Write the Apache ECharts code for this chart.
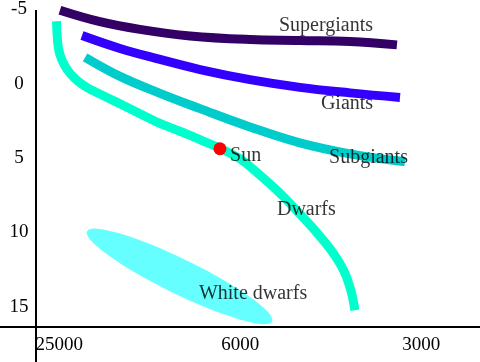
<!DOCTYPE html>
<html>
<head>
<meta charset="utf-8">
<script src="https://cdn.jsdelivr.net/npm/echarts@6/dist/echarts.min.js"></script>
<style>
html,body{margin:0;padding:0;background:#fff;}
#chart{width:480px;height:362px;}
</style>
</head>
<body>
<div id="chart"></div>
<script>
// x positions: 0 -> 25000 K, 1 -> 6000 K, 2 -> 3000 K (schematic temperature axis)
const xTickValues = [0, 1, 2];
const xTickLabels = ['25000', '6000', '3000'];
// absolute magnitude ticks
const yTickValues = [-5, 0, 5, 10, 15];

// [temperature position, absolute magnitude]
const supergiants = [[0.004,-4.95],[0.225,-4.18],[0.446,-3.66],[0.723,-3.22],[1.054,-2.98],[1.330,-2.92],[1.607,-2.85],[1.866,-2.62]];
const giants = [[0.126,-3.25],[0.336,-2.38],[0.557,-1.64],[0.778,-0.96],[1.054,-0.28],[1.330,0.24],[1.607,0.61],[1.883,0.92]];
const subgiants = [[0.143,-1.78],[0.336,-0.50],[0.557,0.64],[0.778,1.67],[1.054,2.90],[1.330,3.97],[1.607,4.71],[1.910,5.25]];
const dwarfs = [[-0.015,-4.21],[-0.012,-3.41],[-0.007,-2.62],[0.004,-1.96],[0.027,-1.30],[0.060,-0.70],[0.104,-0.17],[0.159,0.29],[0.225,0.69],[0.308,1.18],[0.391,1.68],[0.474,2.18],[0.557,2.67],[0.640,3.07],[0.723,3.47],[0.806,3.90],[0.888,4.33],[0.999,5.05],[1.093,5.98],[1.214,7.30],[1.319,8.62],[1.419,9.95],[1.507,11.27],[1.573,12.59],[1.612,13.92],[1.634,15.24]];
const whiteDwarfsCenter = [[0.665, 12.96]];
const sun = [[0.888, 4.37]];

const labelNames = ['Supergiants', 'Giants', 'Subgiants', 'Sun', 'Dwarfs', 'White dwarfs'];
const labelAnchors = [[1.214,-3.94],[1.446,1.35],[1.491,4.99],[0.944,4.85],[1.203,8.49],[0.772,14.11]];

const FONT = '"Liberation Serif", "DejaVu Serif", serif';
const chart = echarts.init(document.getElementById('chart'), null, {renderer: 'canvas'});

function band(name, data, color, smooth) {
  return {
    name: name, type: 'line', data: data, smooth: smooth, showSymbol: false, silent: true,
    lineStyle: {color: color, width: 9, cap: 'butt', opacity: 1}, z: 3
  };
}

chart.setOption({
  animation: false,
  backgroundColor: '#ffffff',
  grid: {left: 36, right: 0, top: 4, bottom: 36},
  xAxis: {
    type: 'value', min: -0.1282, max: 2.3249,
    axisLine: {show: false}, axisTick: {show: false}, splitLine: {show: false},
    axisLabel: {
      customValues: xTickValues,
      formatter: v => xTickLabels[Math.round(v)],
      color: '#000', fontFamily: FONT, fontSize: 19, margin: 10
    }
  },
  yAxis: {
    type: 'value', inverse: true, min: -5, max: 16.296,
    axisLine: {show: false}, axisTick: {show: false}, splitLine: {show: false},
    axisLabel: {
      customValues: yTickValues,
      formatter: v => String(v),
      color: '#000', fontFamily: FONT, fontSize: 19, align: 'center', margin: 17
    }
  },
  graphic: [
    {type: 'line', shape: {x1: 36, y1: 10, x2: 36, y2: 362}, style: {stroke: '#000', lineWidth: 2}, z: 10},
    {type: 'line', shape: {x1: 0, y1: 327, x2: 480, y2: 327}, style: {stroke: '#000', lineWidth: 2}, z: 10}
  ],
  series: [
    {
      name: 'White dwarfs', type: 'scatter', data: whiteDwarfsCenter, silent: true,
      symbol: 'circle', symbolSize: [206, 35], symbolRotate: -26,
      itemStyle: {color: '#66ffff', opacity: 1}, z: 2
    },
    band('Supergiants', supergiants, '#330066', 0.4),
    band('Giants', giants, '#3300ff', 0.4),
    band('Subgiants', subgiants, '#00cccc', 0.4),
    band('Dwarfs', dwarfs, '#00ffcc', 0.3),
    {
      name: 'Sun', type: 'scatter', data: sun, silent: true,
      symbol: 'circle', symbolSize: 13, itemStyle: {color: '#ff0000', opacity: 1}, z: 4
    },
    {
      name: 'labels', type: 'scatter', silent: true, symbolSize: 0, z: 5,
      data: labelAnchors.map((p, i) => ({value: p, name: labelNames[i]})),
      label: {
        show: true, position: 'right', distance: 0, formatter: p => p.name,
        color: '#000', fontFamily: FONT, fontSize: 20
      }
    }
  ]
});
</script>
</body>
</html>
